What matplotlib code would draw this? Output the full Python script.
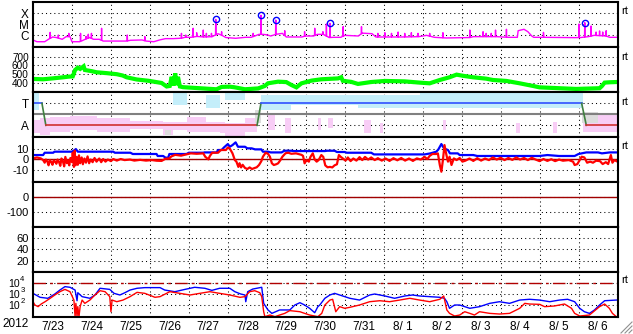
import numpy as np
import matplotlib
matplotlib.use('Agg')
import matplotlib.pyplot as plt
from matplotlib.lines import Line2D

plt.rcParams['font.family'] = ['Liberation Sans', 'DejaVu Sans']

# ---------------- data (time in days since 2012-07-23 00:00) ----------------
day_labels = ['7/23', '7/24', '7/25', '7/26', '7/27', '7/28', '7/29', '7/30',
              '7/31', '8/ 1', '8/ 2', '8/ 3', '8/ 4', '8/ 5', '8/ 6']
year_label = '2012'
flux_exponents = [2, 3, 4]

# X-ray flux (log10 W/m2): background + spikes + flagged flares
xray_base = [(0.0, -6.42), (0.1, -6.58), (0.3, -6.58), (0.4, -6.36), (0.5, -6.15), (0.6, -6.2),
             (0.75, -6.36), (0.85, -6.12), (0.95, -6.12), (1.0, -6.58), (1.2, -6.58), (1.3, -6.42),
             (1.45, -6.2), (1.55, -6.36), (1.7, -6.36), (1.8, -6.52), (2.0, -6.52), (2.2, -6.52),
             (2.4, -6.52), (2.5, -6.45), (2.8, -6.42), (2.9, -6.52), (3.1, -6.58), (3.25, -6.42),
             (3.4, -6.3), (3.6, -6.3), (3.8, -6.27), (3.9, -6.18), (4.05, -6.18), (4.2, -6.1),
             (4.4, -6.15), (4.6, -6.12), (4.75, -5.85), (4.85, -6.0), (4.95, -6.2), (5.2, -6.27),
             (5.45, -6.18), (5.6, -6.18), (5.8, -5.91), (5.9, -5.91), (6.0, -5.95), (6.1, -6.06),
             (6.25, -5.9), (6.4, -5.82), (6.5, -6.15), (6.9, -6.15), (7.0, -6.06), (7.2, -6.06),
             (7.3, -5.91), (7.45, -5.91), (7.6, -6.2), (7.7, -6.18), (7.9, -6.18), (8.0, -6.0),
             (8.35, -6.06), (8.45, -5.8), (8.7, -5.85), (8.8, -6.15), (9.5, -6.15), (9.9, -6.12),
             (10.1, -6.0), (10.3, -6.18), (10.6, -6.24), (11.2, -6.21), (11.3, -6.12), (11.9, -6.12),
             (12.2, -6.18), (12.43, -6.18), (12.45, -5.58), (12.6, -5.45), (12.7, -5.67), (12.8, -6.06),
             (12.85, -6.18), (13.1, -6.18), (13.9, -6.21), (14.05, -6.2), (14.25, -6.12), (14.4, -6.0),
             (14.7, -6.06), (14.8, -6.18), (15.0, -6.18)]
xray_spikes = [(0.44, -5.73), (0.65, -5.97), (0.92, -5.82), (1.22, -5.82), (1.36, -6.1), (1.42, -5.9),
               (1.5, -5.82), (1.76, -5.36), (2.42, -5.97), (2.87, -6.12), (3.81, -5.82), (3.92, -5.97),
               (4.11, -5.36), (4.2, -5.76), (4.37, -5.52), (4.45, -5.82), (4.58, -5.82), (4.69, -4.55),
               (4.84, -5.67), (5.65, -5.82), (5.85, -4.18), (6.23, -4.61), (6.46, -5.58), (6.97, -5.67),
               (7.23, -5.36), (7.44, -5.67), (7.53, -4.97), (7.62, -4.91), (7.96, -5.21), (8.43, -5.21),
               (8.85, -5.82), (9.03, -5.76), (9.2, -5.82), (9.37, -5.7), (9.54, -5.82), (9.71, -5.76),
               (9.88, -5.82), (10.18, -5.82), (10.52, -5.76), (11.21, -5.52), (11.55, -5.67),
               (11.63, -5.82), (11.76, -5.82), (11.87, -5.52), (12.15, -5.45), (13.1, -5.73),
               (14.01, -4.97), (14.16, -4.85), (14.32, -5.15), (14.45, -5.7), (14.54, -5.6),
               (14.62, -5.7), (14.71, -5.58)]
flare_t = [4.69, 5.85, 6.23, 7.62, 14.16]
flare_v = [-4.55, -4.18, -4.61, -4.91, -4.85]

# Solar wind speed (km/s)
speed = [(0.0, 446), (0.26, 442), (0.52, 453), (0.78, 465), (0.91, 472), (1.02, 475), (1.08, 548),
         (1.15, 575), (1.21, 560), (1.3, 590), (1.33, 548), (1.5, 535), (1.63, 522), (1.89, 512),
         (2.15, 500), (2.3, 485), (2.4, 465), (2.66, 440), (2.96, 425), (3.3, 400), (3.43, 360),
         (3.51, 366), (3.56, 470), (3.6, 370), (3.65, 510), (3.68, 375), (3.72, 470), (3.77, 360),
         (3.85, 352), (4.28, 340), (4.71, 328), (4.84, 355), (5.05, 358), (5.18, 350), (5.44, 328),
         (5.78, 338), (5.95, 366), (6.03, 396), (6.29, 415), (6.5, 410), (6.63, 377), (6.76, 350),
         (6.89, 396), (7.15, 427), (7.4, 442), (7.83, 452), (7.91, 465), (7.95, 425), (8.17, 412),
         (8.34, 389), (8.68, 411), (9.03, 423), (9.54, 418), (9.92, 404), (10.18, 396), (10.44, 434),
         (10.69, 465), (10.87, 495), (11.03, 482), (11.29, 465), (11.63, 449), (11.8, 434),
         (12.15, 423), (12.49, 396), (12.83, 366), (13.0, 350), (13.51, 340), (13.94, 332),
         (14.54, 340), (14.6, 365), (14.67, 404), (14.8, 408), (15.0, 411)]

# Sector state: T = +1, A = -1
state = [(0.0, 1), (0.23, 1), (0.33, -1), (5.75, -1), (5.85, 1), (14.08, 1), (14.2, -1), (15.0, -1)]
pink_bands = [(0.02, 0.18, -1.73, -0.52), (0.18, 0.44, -1.88, -0.36), (0.44, 0.95, -1.58, -0.21),
              (0.95, 1.63, -1.42, -0.15), (1.63, 2.49, -1.58, -0.36), (2.49, 3.34, -1.36, -0.58),
              (3.34, 3.6, -1.88, -0.67), (3.6, 3.94, -1.42, -0.67), (3.94, 4.45, -1.58, -0.21),
              (4.45, 4.79, -1.58, -0.67), (4.79, 4.92, -1.73, -0.67), (4.92, 5.44, -2.0, -0.82),
              (5.44, 5.74, -1.58, -0.36), (6.03, 6.2, -1.42, -0.06), (6.46, 6.63, -1.73, -0.36),
              (7.31, 7.4, -1.42, -0.36), (7.57, 7.7, -1.27, -0.36), (8.5, 8.68, -1.73, -0.52),
              (8.9, 8.98, -1.73, -0.82), (10.52, 10.6, -1.42, -0.52), (12.4, 12.5, -1.73, -0.82),
              (13.35, 13.44, -1.73, -0.67), (14.12, 15.0, -1.58, -0.06)]
blue_bands = [(0.0, 0.15, 0.39, 1.91), (3.6, 3.94, 0.85, 1.91), (4.45, 4.79, 0.55, 1.76),
              (4.92, 5.44, 1.3, 1.91), (5.86, 6.63, 0.39, 1.76), (6.63, 8.34, 0.85, 1.76),
              (8.34, 10.05, 0.55, 1.76), (9.92, 14.12, 0.55, 1.91)]
gray_bands = [(5.7, 5.86, -0.82, 0.39), (3.4, 3.55, -1.88, -1.4), (14.1, 14.5, -0.82, 0.24)]

# IMF Bt (blue) and Bz (red), nT
bt = [(0.0, 3.8), (0.26, 3.8), (0.3, 6.0), (0.52, 6.0), (0.55, 7), (1.0, 7), (1.07, 8.6), (1.1, 9.5),
      (1.15, 7), (2.06, 7), (2.1, 6), (2.5, 6), (2.56, 4.8), (3.17, 4.8), (3.2, 2.9), (3.34, 2.9),
      (3.4, 1.3), (3.47, 1.3), (3.5, 4.8), (3.94, 4.8), (4.0, 6), (4.37, 6), (4.4, 6.3), (4.71, 6.3),
      (4.75, 8.6), (4.84, 8.6), (4.9, 11), (5.0, 14.3), (5.05, 11.7), (5.12, 13.3), (5.2, 15.9),
      (5.26, 11.7), (5.44, 11.7), (5.5, 10.2), (5.61, 10.2), (5.7, 9.2), (5.86, 9.2), (5.9, 7),
      (6.03, 7), (6.1, 6.3), (6.38, 6.3), (6.45, 7.9), (6.63, 7.9), (6.7, 7.6), (7.49, 7.6),
      (7.55, 7.9), (7.74, 7.9), (7.8, 6.7), (8.0, 6.7), (8.05, 6.0), (8.68, 6.0), (8.75, 4.4),
      (10.05, 4.4), (10.2, 5.4), (10.35, 7), (10.4, 9), (10.48, 14.3), (10.55, 10), (10.65, 8.6),
      (10.7, 5.4), (10.9, 5.4), (10.95, 3.8), (11.3, 3.8), (11.4, 2.9), (13.0, 2.9), (13.2, 3.8),
      (13.5, 2.9), (13.9, 2.9), (14.0, 4.8), (14.2, 6.3), (14.5, 6.3), (14.6, 5.4), (14.8, 6.3),
      (15.0, 6.3)]
bz = [(0.0, 0.6), (0.1, 1.5), (0.2, 0.6), (0.26, -1.0), (0.3, -3.5), (0.33, -0.5), (0.37, -2.5),
      (0.4, -6.0), (0.43, -1.0), (0.47, -3.0), (0.5, -5.5), (0.53, -1.5), (0.57, -2.5), (0.6, -4.5),
      (0.63, -0.5), (0.67, -3.0), (0.7, -6.5), (0.73, 0.5), (0.77, -2.5), (0.8, -7.0), (0.83, 2.0),
      (0.87, -4.0), (0.9, -1.0), (0.93, -6.0), (0.96, 1.0), (1.0, -3.0), (1.02, 6.0), (1.05, -7.5),
      (1.07, 8.0), (1.09, -6.0), (1.12, 2.0), (1.15, -5.5), (1.18, 3.5), (1.21, -4.0), (1.25, 1.5),
      (1.28, -5.0), (1.32, 0.5), (1.36, -3.5), (1.4, 2.5), (1.44, -4.0), (1.48, -0.5), (1.53, -3.0),
      (1.58, 1.0), (1.63, -2.5), (1.7, 0.5), (1.75, -3.0), (1.8, 0.0), (1.86, -2.5), (1.92, -0.5),
      (2.0, -2.0), (2.06, 0.0), (2.15, -1.5), (2.25, 0.0), (2.35, -1.0), (2.49, -0.5), (2.6, -1.5),
      (2.75, -0.8), (2.9, -1.5), (3.05, -1.0), (3.17, -1.6), (3.3, -1.8), (3.4, 0.3), (3.5, 0.6),
      (3.55, 2.5), (3.65, 4.0), (3.8, 3.2), (3.94, 4.5), (4.05, 5.4), (4.2, 5.0), (4.37, 5.4),
      (4.42, 2.2), (4.5, -0.3), (4.54, 3.0), (4.6, 6.0), (4.75, 6.0), (4.82, 8.6), (4.95, 8.6),
      (5.0, 11.0), (5.05, 10.0), (5.12, 5.4), (5.18, -1.0), (5.22, -2.5), (5.27, -7.5), (5.3, -4.0),
      (5.34, -8.0), (5.38, -5.5), (5.44, -8.5), (5.5, -9.5), (5.56, -8.0), (5.62, -9.5), (5.69, -8.5),
      (5.74, -7.9), (5.8, -5.7), (5.86, -2.0), (5.9, 2.2), (5.97, 6.0), (6.03, 5.0), (6.08, 2.2),
      (6.13, -4.0), (6.18, -5.7), (6.24, -5.0), (6.29, -4.1), (6.35, -1.0), (6.4, 2.2), (6.48, 5.5),
      (6.55, 6.0), (6.63, 5.0), (6.75, 5.4), (6.89, 4.0), (6.93, 3.0), (6.97, -4.1), (7.02, -1.0),
      (7.08, -2.5), (7.12, 2.0), (7.18, 5.4), (7.23, -0.5), (7.28, -2.5), (7.33, -1.0), (7.4, 3.8),
      (7.45, 2.0), (7.5, -6.0), (7.56, -7.9), (7.62, -7.5), (7.68, -8.0), (7.74, -6.0), (7.8, -5.0),
      (7.85, 3.8), (7.9, 2.0), (7.95, 0.6), (8.02, -1.5), (8.08, 1.5), (8.15, -2.0), (8.22, 0.5),
      (8.3, -1.5), (8.38, 1.8), (8.45, -1.0), (8.52, 2.0), (8.6, -0.5), (8.68, 1.5), (8.77, -1.0),
      (8.85, 0.8), (8.95, -1.5), (9.05, 0.5), (9.15, -1.8), (9.25, 0.8), (9.35, -1.2), (9.45, 1.0),
      (9.55, -1.5), (9.65, 0.5), (9.75, -1.8), (9.85, 0.6), (9.95, -0.5), (10.05, 2.0), (10.12, 0.0),
      (10.18, 3.0), (10.25, 4.8), (10.35, 4.8), (10.39, 5.4), (10.44, -5.7), (10.48, -12.1),
      (10.52, -0.9), (10.56, 13.3), (10.61, 3.8), (10.65, -2.5), (10.69, 2.2), (10.74, -5.7),
      (10.8, 0.6), (10.87, -1.0), (10.95, 1.0), (11.02, -2.5), (11.1, -1.5), (11.2, 0.5),
      (11.3, -1.8), (11.4, 0.8), (11.5, -1.5), (11.6, 0.5), (11.7, -1.0), (11.8, 1.5), (11.9, -0.5),
      (12.0, 1.2), (12.1, -1.0), (12.2, 1.0), (12.3, -0.8), (12.4, 1.5), (12.5, -0.5), (12.6, 1.0),
      (12.7, -1.0), (12.8, 1.2), (12.9, -0.5), (13.0, -2.0), (13.1, 0.0), (13.2, -1.8), (13.3, -0.2),
      (13.4, -2.0), (13.5, -0.5), (13.6, -1.6), (13.75, -1.0), (13.86, -2.5), (13.9, -5.7),
      (13.97, -4.8), (14.03, -1.0), (14.08, 2.2), (14.15, 1.5), (14.22, -3.5), (14.3, -2.5),
      (14.37, -3.5), (14.45, -1.6), (14.55, -2.0), (14.62, -4.8), (14.7, -3.0), (14.76, -4.8),
      (14.83, 3.8), (14.87, -3.5), (14.92, -1.0), (15.0, -2.5)]

# Electron flux (log10), blue and red channels
flux_blue = [(0.0, 3.09), (0.18, 2.73), (0.38, 2.64), (0.56, 3.03), (0.69, 3.39), (0.82, 3.70),
             (0.95, 3.64), (1.08, 3.39), (1.13, 2.42), (1.15, 3.15), (1.26, 2.79), (1.46, 2.64),
             (1.59, 2.94), (1.72, 3.55), (1.97, 3.45), (2.08, 3.09), (2.23, 2.94), (2.36, 3.15),
             (2.49, 3.39), (2.67, 3.55), (2.87, 3.61), (3.26, 3.61), (3.38, 3.39), (3.64, 3.24),
             (3.90, 3.45), (4.15, 3.64), (4.41, 3.55), (4.59, 3.36), (4.79, 3.55), (5.05, 3.55),
             (5.18, 3.24), (5.33, 3.03), (5.44, 2.94), (5.46, 2.33), (5.51, 3.24), (5.64, 3.48),
             (5.87, 3.64), (5.92, 2.18), (6.03, 1.58), (6.13, 1.27), (6.33, 1.58), (6.59, 1.58),
             (6.72, 2.03), (6.85, 2.24), (6.97, 2.03), (7.10, 1.73), (7.23, 1.33), (7.31, 1.88),
             (7.36, 2.03), (7.49, 2.64), (7.62, 2.94), (7.74, 3.09), (7.87, 2.94), (8.13, 2.64),
             (8.38, 2.48), (8.64, 2.94), (8.77, 3.03), (9.03, 2.85), (9.28, 2.64), (9.54, 2.85),
             (9.74, 2.94), (9.92, 2.85), (10.18, 2.79), (10.44, 2.73), (10.56, 2.64), (10.62, 2.33),
             (10.69, 1.73), (10.82, 2.03), (10.95, 2.03), (11.08, 1.88), (11.21, 1.73), (11.46, 1.88),
             (11.72, 2.18), (11.97, 2.33), (12.23, 2.18), (12.49, 2.48), (12.74, 2.55), (13.00, 2.48),
             (13.26, 2.33), (13.51, 2.48), (13.72, 2.55), (13.90, 2.33), (14.03, 1.73), (14.15, 1.42),
             (14.28, 1.27), (14.41, 1.58), (14.54, 2.03), (14.67, 2.42), (14.97, 2.48)]
flux_red = [(0.00, 2.33), (0.05, 2.03), (0.13, 1.88), (0.21, 2.12), (0.31, 2.33), (0.44, 2.64),
            (0.56, 2.94), (0.69, 3.24), (0.82, 3.45), (0.95, 3.24), (1.05, 2.48), (1.08, 0.97),
            (1.10, 2.18), (1.13, 0.97), (1.15, 1.88), (1.18, 0.97), (1.21, 1.88), (1.26, 2.48),
            (1.33, 2.18), (1.46, 2.48), (1.59, 2.94), (1.72, 3.33), (1.85, 3.24), (1.97, 2.79),
            (2.00, 1.42), (2.03, 2.48), (2.15, 2.33), (2.31, 2.48), (2.49, 2.79), (2.67, 3.18),
            (2.87, 3.09), (3.13, 2.73), (3.26, 2.79), (3.51, 3.24), (3.77, 3.09), (4.03, 2.94),
            (4.28, 3.09), (4.54, 3.24), (4.79, 3.09), (5.05, 2.94), (5.31, 2.73), (5.44, 2.79),
            (5.56, 3.24), (5.69, 3.33), (5.82, 3.15), (5.87, 2.79), (5.92, 1.42), (5.95, 0.97),
            (6.08, 1.12), (6.21, 0.97), (6.33, 1.12), (6.46, 1.27), (6.59, 1.52), (6.85, 1.42),
            (6.97, 1.27), (7.10, 1.12), (7.31, 0.97), (7.41, 1.27), (7.49, 2.03), (7.62, 2.48),
            (7.69, 2.55), (7.77, 1.42), (7.87, 1.88), (8.00, 1.73), (8.13, 1.82), (8.38, 2.03),
            (8.64, 2.33), (8.90, 2.42), (9.15, 2.33), (9.41, 2.48), (9.67, 2.64), (9.92, 2.48),
            (10.18, 2.33), (10.44, 2.55), (10.54, 2.85), (10.62, 1.58), (10.69, 1.27), (10.82, 1.03),
            (10.95, 1.12), (11.08, 1.42), (11.21, 1.27), (11.33, 1.12), (11.46, 1.42), (11.72, 1.27),
            (11.97, 1.21), (12.23, 1.27), (12.49, 1.73), (12.62, 2.18), (12.74, 2.12), (13.00, 2.09),
            (13.13, 1.88), (13.38, 1.94), (13.64, 2.12), (13.82, 1.73), (13.90, 1.27), (14.03, 1.03),
            (14.28, 1.12), (14.54, 1.88), (14.67, 2.12), (14.79, 1.73), (14.87, 1.27), (14.97, 0.97)]

# ---------------- figure ----------------
W, H = 633, 334
fig = plt.figure(figsize=(W / 100, H / 100), dpi=100)
L, R = 33, 617.5
tops = [2, 47, 92, 137, 182, 227, 272]
PH = 45
axes = [fig.add_axes([L / W, 1 - (t + PH) / H, (R - L) / W, PH / H]) for t in tops]

DOT = (0, (1, 3))


def style(ax, yt, ylab, ylim, fs=8.0):
    ax.set_xlim(0, 15)
    ax.set_ylim(*ylim)
    ax.set_yticks(yt)
    ax.set_yticklabels(ylab)
    ax.set_xticks(np.arange(1, 15))
    ax.tick_params(axis='both', which='both', length=0, labelsize=fs, pad=3, labelbottom=False)
    for s in ax.spines.values():
        s.set_linewidth(1.5)
    ax.set_axisbelow(True)
    ax.grid(True, which='major', color='black', linestyle=DOT, linewidth=0.75)


def unzip(pairs):
    a = np.array(pairs, dtype=float)
    return a[:, 0], a[:, 1]


# Panel 1: X-ray
ax = axes[0]
style(ax, [-6, -5, -4], ['C', 'M', 'X'], (-7.06, -2.97), fs=8.5)
bt_, bv_ = unzip(xray_base)
pts = list(zip(bt_, bv_))
for t, p in xray_spikes:
    b = float(np.interp(t, bt_, bv_))
    pts += [(t - 0.006, b), (t, p), (t + 0.006, b)]
pts.sort()
xt, xv = unzip(pts)
ax.plot(xt, xv, color='#ff00ff', lw=1.0)
ax.plot(flare_t, flare_v, 'o', mfc='none', mec='#0000ff', ms=4.5, mew=1.0)

# Panel 2: speed
ax = axes[1]
style(ax, [400, 500, 600, 700], ['400', '500', '600', '700'], (297, 810), fs=7.2)
st, sv = unzip(speed)
ax.plot(st, sv, color='#00ff00', lw=3.0, solid_joinstyle='miter')

# Panel 3: sector
ax = axes[2]
style(ax, [-1, 1], ['A', 'T'], (-2.06, 2.03), fs=8.5)
for t0, t1, lo, hi in blue_bands:
    ax.fill_between([t0, t1], lo, hi, color='#c4eefa', lw=0, zorder=0.8)
for t0, t1, lo, hi in pink_bands:
    ax.fill_between([t0, t1], lo, hi, color='#f8cdf6', lw=0, zorder=0.8)
for t0, t1, lo, hi in gray_bands:
    ax.fill_between([t0, t1], lo, hi, color='#dcdcdc', lw=0, zorder=0.8)
ax.axhline(0, color='#808080', lw=1.5)
for (t0, v0), (t1, v1) in zip(state[:-1], state[1:]):
    if v0 == v1:
        c = '#3050ff' if v0 > 0 else '#d03030'
    else:
        c = '#408040'
    ax.plot([t0, t1], [v0, v1], color=c, lw=1.2)

# Panel 4: IMF
ax = axes[3]
style(ax, [-10, 0, 10], ['-10', '0', '10'], (-21.9, 21))
ax.axhline(0, color='#a00000', lw=1.0)
t_, v_ = unzip(bt)
ax.plot(t_, v_, color='#0000ff', lw=1.6)
t_, v_ = unzip(bz)
ax.plot(t_, v_, color='#ff0000', lw=1.6)

# Panel 5
ax = axes[4]
style(ax, [-100, 0], ['-100', '0'], (-198, 102))
ax.axhline(0, color='#a00000', lw=1.0)

# Panel 6
ax = axes[5]
style(ax, [20, 40, 60], ['20', '40', '60'], (-0.2, 80))

# Panel 7: electron flux
ax = axes[6]
ax.set_yscale('log')
style(ax, [10.0 ** e for e in flux_exponents], ['' for _ in flux_exponents],
      (10 ** 0.94, 10 ** 5.03), fs=7.0)
ax.yaxis.set_minor_locator(matplotlib.ticker.NullLocator())
ax.axhline(1e4, color='#b00000', lw=1.0, linestyle=(0, (9, 3, 2, 3)))
t_, v_ = unzip(flux_blue)
ax.plot(t_, 10 ** v_, color='#0000ff', lw=1.0)
t_, v_ = unzip(flux_red)
ax.plot(t_, 10 ** v_, color='#ff0000', lw=1.0)
ax.set_xticks(np.arange(15) + 0.5, minor=True)
ax.set_xticklabels(day_labels, minor=True)
ax.tick_params(axis='x', which='minor', labelbottom=True, labelsize=8.5, pad=3, length=0)

# 10^n labels drawn as base + raised exponent, placed at the axis' own tick positions
fig.canvas.draw()
for e in flux_exponents:
    _, ypix = ax.transData.transform((0, 10.0 ** e))
    yf = ypix / H
    fig.text(19.5 / W, yf - 0.4 / H, '10', ha='right', va='center', fontsize=7.6)
    fig.text(20.3 / W, yf + 4.2 / H, str(e), ha='left', va='center', fontsize=5.6)

fig.text(16 / W, 1 - 324 / H, year_label, ha='center', va='center', fontsize=8.5)
for y in [11.5, 56.5, 102, 146, 280]:
    fig.text(621 / W, 1 - y / H, 'rt', ha='left', va='center', fontsize=8)

for x0, y0, x1, y1 in [(621, 333, 632, 322), (625, 333, 632, 326), (629, 333, 632, 330)]:
    fig.add_artist(Line2D([x0 / W, x1 / W], [1 - y0 / H, 1 - y1 / H], transform=fig.transFigure,
                          color='#909090', lw=0.8))

fig.savefig('out.png', dpi=100)
